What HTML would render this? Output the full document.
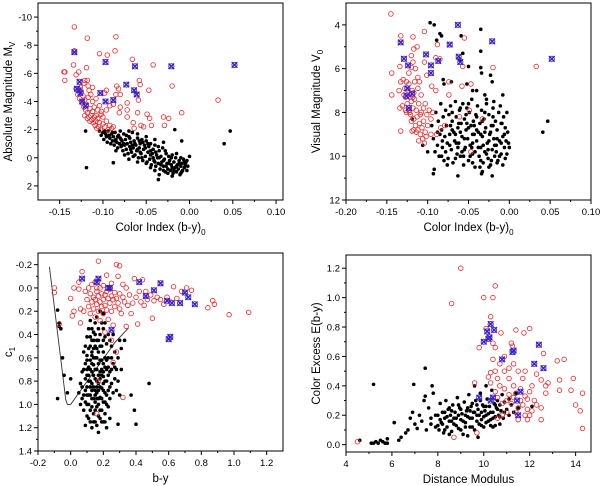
<!DOCTYPE html>
<html><head><meta charset="utf-8"><style>
html,body{margin:0;padding:0;background:#fff;}
svg{display:block;font-family:"Liberation Sans",Arial,sans-serif;}
</style></head><body>
<svg id="chart" width="600" height="486" viewBox="0 0 600 486"></svg>
<script>
// ---------- Panel 1: Absolute magnitude vs color index ----------
const p1Black = [[-0.104,-1.9],[-0.102,-1.6],[-0.100,-1.8],[-0.099,-1.3],[-0.097,-1.7],[-0.096,-1.5],[-0.095,-1.1],[-0.094,-1.9],[-0.092,-1.4],[-0.091,-1.0],[-0.090,-1.7],[-0.089,-1.2],[-0.088,-1.5],[-0.087,-0.9],[-0.086,-1.8],[-0.085,-1.3],[-0.084,-1.1],[-0.083,-0.7],[-0.082,-1.6],[-0.081,-1.0],[-0.080,-1.4],[-0.079,-0.8],[-0.078,-1.2],[-0.077,-0.5],[-0.076,-1.7],[-0.075,-0.9],[-0.074,-1.3],[-0.073,-0.6],[-0.072,-1.0],[-0.071,-0.3],[-0.070,-1.5],[-0.069,-0.8],[-0.068,-1.1],[-0.067,-0.4],[-0.066,-1.8],[-0.065,-0.7],[-0.064,-1.2],[-0.063,-0.2],[-0.062,-0.9],[-0.061,-0.5],[-0.060,-1.4],[-0.059,0.0],[-0.058,-0.7],[-0.057,-1.0],[-0.056,-0.3],[-0.055,-1.3],[-0.054,0.2],[-0.053,-0.6],[-0.052,-0.9],[-0.051,-0.1],[-0.050,-1.2],[-0.049,0.3],[-0.048,-0.4],[-0.047,-0.8],[-0.046,0.1],[-0.045,-1.0],[-0.044,0.5],[-0.043,-0.3],[-0.042,-0.6],[-0.041,0.2],[-0.040,-0.9],[-0.039,0.6],[-0.038,-0.2],[-0.037,0.0],[-0.036,0.4],[-0.035,-0.5],[-0.034,0.8],[-0.033,-0.1],[-0.032,0.3],[-0.031,-0.7],[-0.030,0.6],[-0.029,0.1],[-0.028,1.0],[-0.027,-0.3],[-0.026,0.4],[-0.025,0.8],[-0.024,-0.1],[-0.023,0.2],[-0.022,0.9],[-0.021,0.5],[-0.020,-0.2],[-0.019,1.1],[-0.018,0.3],[-0.017,0.7],[-0.016,0.0],[-0.015,1.0],[-0.014,0.5],[-0.013,0.8],[-0.012,0.2],[-0.011,1.2],[-0.010,0.6],[-0.009,0.4],[-0.008,0.9],[-0.007,0.1],[-0.006,0.7],[-0.005,0.5],[-0.004,0.3],[-0.002,0.6],[0.000,-0.1],[-0.003,0.9],[-0.08,-1.9],[-0.07,-1.9],[-0.06,-1.7],[-0.05,-1.5],[-0.045,-0.2],[-0.055,0.0],[-0.065,-0.1],[-0.075,-0.2],[-0.085,-0.5],[-0.035,1.2],[-0.04,0.9],[-0.03,0.9],[-0.02,1.3],[-0.025,1.1],[-0.015,-0.3],[-0.01,0.0],[-0.04,-1.3],[-0.03,-1.1],[-0.045,0.7],[-0.06,0.3],[-0.07,0.1],[-0.12,-1.9],[-0.119,0.7],[-0.088,0.35],[-0.036,1.55],[-0.017,-2.0],[-0.009,-1.2],[0.047,-1.9],[0.040,-1.0]];
const p1BlackMore = [[-0.098,-1.9],[-0.093,-1.6],[-0.089,-1.8],[-0.086,-1.2],[-0.083,-1.5],[-0.079,-1.3],[-0.076,-1.0],[-0.073,-1.6],[-0.069,-1.4],[-0.066,-0.9],[-0.063,-1.0],[-0.06,-0.6],[-0.057,-0.4],[-0.054,-1.1],[-0.051,-0.7],[-0.048,-1.0],[-0.045,-0.5],[-0.042,0.0],[-0.039,-0.4],[-0.036,-0.8],[-0.033,0.5],[-0.03,0.2],[-0.027,0.6],[-0.024,0.4],[-0.021,0.0],[-0.018,0.9],[-0.015,0.6],[-0.012,0.4],[-0.009,1.0],[-0.006,0.3],[-0.003,0.2],[-0.05,0.4],[-0.04,0.3],[-0.035,0.0],[-0.028,-0.5],[-0.02,0.7],[-0.01,1.1],[-0.058,-1.2],[-0.068,-0.6],[-0.078,-0.9]];
const p1Red = [[-0.131,-4.9],[-0.129,-4.5],[-0.127,-4.2],[-0.125,-4.7],[-0.124,-3.9],[-0.123,-4.4],[-0.122,-3.6],[-0.121,-4.1],[-0.120,-3.4],[-0.119,-3.8],[-0.118,-3.2],[-0.117,-4.3],[-0.116,-2.9],[-0.115,-3.5],[-0.114,-3.0],[-0.113,-2.7],[-0.112,-3.3],[-0.111,-2.5],[-0.110,-2.9],[-0.109,-2.3],[-0.108,-2.6],[-0.107,-2.1],[-0.106,-2.8],[-0.105,-2.2],[-0.104,-2.5],[-0.103,-2.0],[-0.102,-3.1],[-0.100,-2.4],[-0.098,-2.2],[-0.096,-2.6],[-0.094,-2.0],[-0.092,-2.3],[-0.090,-2.1],[-0.088,-2.2],[-0.126,-5.0],[-0.122,-5.3],[-0.118,-5.5],[-0.116,-4.8],[-0.114,-4.5],[-0.112,-4.0],[-0.110,-3.6],[-0.108,-4.2],[-0.106,-3.4],[-0.104,-3.7],[-0.102,-3.3],[-0.100,-2.9],[-0.112,-5.0],[-0.108,-3.0],[-0.115,-2.6],[-0.118,-2.8],[-0.121,-3.0],[-0.133,-9.3],[-0.118,-8.5],[-0.085,-8.6],[-0.086,-7.6],[-0.104,-7.4],[-0.095,-7.3],[-0.066,-7.0],[-0.133,-7.6],[-0.134,-6.6],[-0.145,-6.1],[-0.144,-6.1],[-0.119,-6.4],[-0.128,-6.1],[-0.042,-6.6],[-0.144,-5.5],[-0.131,-5.9],[-0.117,-5.1],[-0.121,-5.5],[-0.098,-4.6],[-0.084,-5.1],[-0.082,-4.9],[-0.058,-5.5],[-0.057,-5.2],[-0.020,-5.1],[-0.047,-4.8],[-0.085,-4.5],[-0.080,-4.5],[-0.059,-4.1],[-0.088,-3.8],[-0.096,-3.4],[-0.072,-3.9],[-0.072,-3.4],[-0.081,-3.2],[-0.060,-3.2],[-0.049,-3.1],[-0.046,-2.8],[-0.072,-2.9],[-0.030,-2.9],[-0.024,-2.8],[-0.009,-3.2],[0.033,-4.1],[-0.065,-2.5],[-0.064,-2.1],[-0.056,-2.3],[-0.044,-2.3],[-0.029,-2.3],[-0.053,-2.2],[-0.080,-3.6],[-0.096,-4.8],[-0.092,-3.7]];
const p1Blue = [[-0.133,-7.5],[-0.097,-6.8],[-0.063,-6.5],[-0.021,-6.5],[0.052,-6.6],[-0.073,-5.2],[-0.064,-4.8],[-0.061,-4.5],[-0.103,-4.6],[-0.097,-4.0],[-0.088,-4.1],[-0.127,-5.4],[-0.128,-4.8],[-0.126,-4.6],[-0.124,-4.0],[-0.120,-3.7],[-0.130,-4.9]];
const p1XTicks = [-0.15,-0.10,-0.05,0.00,0.05,0.10];
const p1YTicks = [-10,-8,-6,-4,-2,0,2];

// ---------- Panel 2: Visual magnitude vs color index ----------
const p2Black = [[-0.097,3.9],[-0.092,4.0],[-0.085,4.4],[-0.083,4.5],[-0.089,4.7],[-0.035,4.2],[-0.059,4.5],[-0.057,5.3],[-0.035,5.2],[-0.061,5.6],[-0.050,5.9],[-0.035,5.95],[-0.034,6.2],[-0.023,6.3],[-0.021,6.6],[-0.081,6.5],[-0.080,6.7],[-0.071,6.6],[-0.052,6.7],[-0.045,7.0],[-0.040,7.0],[-0.030,7.2],[-0.028,7.4],[-0.008,7.2],[-0.019,7.5],[0.047,8.4],[0.041,8.9],[-0.092,10.6],[-0.093,10.8],[-0.063,10.9],[-0.033,10.7],[-0.034,10.8],[-0.021,10.9],[-0.119,8.3],[-0.106,9.5],[-0.100,9.8],[-0.095,8.6],[-0.093,9.2],[-0.091,9.8],[-0.090,8.0],[-0.088,9.5],[-0.087,8.4],[-0.086,10.0],[-0.085,9.0],[-0.084,7.6],[-0.083,8.8],[-0.082,9.6],[-0.081,8.2],[-0.080,10.2],[-0.079,9.1],[-0.078,7.9],[-0.077,8.6],[-0.076,9.4],[-0.075,10.1],[-0.074,8.1],[-0.073,9.0],[-0.072,7.7],[-0.071,9.7],[-0.070,8.4],[-0.069,10.3],[-0.068,8.9],[-0.067,9.3],[-0.066,7.5],[-0.065,8.2],[-0.064,9.9],[-0.063,8.7],[-0.062,9.4],[-0.061,7.9],[-0.060,10.0],[-0.059,8.5],[-0.058,9.1],[-0.057,7.6],[-0.056,10.4],[-0.055,8.3],[-0.054,9.6],[-0.053,8.8],[-0.052,7.8],[-0.051,9.2],[-0.050,10.2],[-0.049,8.0],[-0.048,9.5],[-0.047,8.6],[-0.046,7.4],[-0.045,9.9],[-0.044,8.4],[-0.043,9.0],[-0.042,10.5],[-0.041,8.1],[-0.040,9.3],[-0.039,7.7],[-0.038,8.9],[-0.037,10.0],[-0.036,8.5],[-0.035,9.6],[-0.034,7.9],[-0.033,9.1],[-0.032,10.3],[-0.031,8.3],[-0.030,9.8],[-0.029,8.7],[-0.028,7.6],[-0.027,9.4],[-0.026,10.1],[-0.025,8.1],[-0.024,9.0],[-0.023,10.4],[-0.022,8.6],[-0.021,9.7],[-0.020,7.8],[-0.019,9.2],[-0.018,10.0],[-0.017,8.4],[-0.016,9.5],[-0.015,8.8],[-0.014,10.2],[-0.013,8.0],[-0.012,9.3],[-0.011,7.7],[-0.010,9.9],[-0.009,8.5],[-0.008,9.1],[-0.007,8.2],[-0.006,9.6],[-0.005,8.7],[-0.004,9.3],[-0.003,9.9],[-0.002,8.9],[-0.001,9.4],[0.000,9.6],[-0.066,9.0],[-0.058,9.8],[-0.048,10.0],[-0.038,9.6],[-0.028,9.9],[-0.018,9.5],[-0.053,8.1],[-0.043,8.6],[-0.033,8.4],[-0.023,8.9],[-0.063,9.6],[-0.073,9.5],[-0.083,10.0],[-0.078,9.8],[-0.015,10.3],[-0.025,10.5],[-0.045,10.3],[-0.035,10.2],[-0.055,9.2],[-0.045,9.0]];
const p2BlackMore = [[-0.07,8.8],[-0.065,9.4],[-0.06,8.9],[-0.055,9.7],[-0.05,8.7],[-0.045,9.4],[-0.04,8.8],[-0.035,9.0],[-0.03,8.9],[-0.025,9.3],[-0.02,8.6],[-0.015,9.2],[-0.01,9.4],[-0.005,10.1],[-0.012,10.0],[-0.022,10.2],[-0.032,9.5],[-0.042,9.8],[-0.052,8.5],[-0.062,8.5],[-0.072,8.6],[-0.082,9.3],[-0.088,8.9],[-0.076,10.4],[-0.066,10.1],[-0.056,10.0],[-0.046,9.6],[-0.036,10.5],[-0.026,9.7],[-0.016,9.8],[-0.006,9.0],[-0.008,10.4],[-0.03,8.0],[-0.04,8.2],[-0.05,7.6],[-0.06,7.8],[-0.07,8.0],[-0.02,8.2],[-0.01,8.5],[-0.003,8.0]];
const p2Red = [[-0.145,3.5],[-0.133,4.5],[-0.118,4.55],[-0.104,4.3],[-0.113,5.0],[-0.117,5.1],[-0.088,4.9],[-0.055,4.6],[-0.134,5.9],[-0.120,5.4],[-0.118,5.7],[-0.104,5.7],[-0.120,5.95],[-0.115,6.0],[-0.123,6.2],[-0.144,6.2],[-0.101,6.3],[-0.112,6.4],[-0.090,5.5],[-0.085,5.55],[-0.057,5.9],[-0.020,5.95],[0.033,5.9],[-0.133,6.6],[-0.135,7.0],[-0.144,7.2],[-0.134,7.8],[-0.133,8.85],[-0.119,8.85],[-0.117,8.8],[-0.110,6.6],[-0.095,6.8],[-0.090,7.0],[-0.074,6.6],[-0.074,7.2],[-0.058,6.8],[-0.047,6.7],[-0.049,7.9],[-0.096,9.0],[-0.089,9.0],[-0.084,8.7],[-0.079,8.6],[-0.061,8.2],[-0.047,9.8],[-0.033,8.3],[-0.130,6.5],[-0.128,6.9],[-0.127,7.3],[-0.126,6.6],[-0.125,7.6],[-0.124,7.0],[-0.123,7.9],[-0.122,7.3],[-0.121,8.1],[-0.120,7.5],[-0.119,7.0],[-0.118,7.8],[-0.117,8.3],[-0.116,7.4],[-0.115,8.6],[-0.114,7.9],[-0.113,8.2],[-0.112,8.8],[-0.111,7.6],[-0.110,8.5],[-0.109,9.0],[-0.108,8.0],[-0.107,8.7],[-0.106,9.2],[-0.105,8.4],[-0.104,9.4],[-0.103,8.9],[-0.102,9.1],[-0.101,8.1],[-0.100,8.6],[-0.098,7.9],[-0.096,8.3],[-0.094,8.0],[-0.129,7.2],[-0.126,8.0],[-0.123,6.7],[-0.120,8.4],[-0.117,7.1],[-0.114,8.9],[-0.111,9.3],[-0.108,7.2],[-0.105,7.8],[-0.112,6.9],[-0.116,6.6],[-0.122,8.0],[-0.118,7.3],[-0.127,7.9],[-0.131,7.7],[-0.109,8.1],[-0.103,7.6]];
const p2Blue = [[-0.133,4.8],[-0.063,4.0],[-0.021,4.75],[0.052,5.55],[-0.073,4.9],[-0.129,5.55],[-0.124,5.85],[-0.102,5.35],[-0.096,5.85],[-0.087,5.65],[-0.062,5.45],[-0.060,5.7],[-0.096,6.2],[-0.125,6.9],[-0.126,7.25],[-0.119,7.15],[-0.123,7.8]];
const p2XTicks = [-0.20,-0.15,-0.10,-0.05,0.00,0.05,0.10];
const p2YTicks = [4,6,8,10,12];

// ---------- Panel 3: c1 vs b-y ----------
const p3Black = [[0.06,0.82],[0.07,0.95],[0.07,0.72],[0.08,0.55],[0.08,1.05],[0.09,0.65],[0.09,0.88],[0.09,1.18],[0.10,0.42],[0.10,0.75],[0.10,1.0],[0.10,0.58],[0.11,0.35],[0.11,0.68],[0.11,0.92],[0.11,1.12],[0.12,0.5],[0.12,0.8],[0.12,1.05],[0.12,0.62],[0.12,0.28],[0.13,0.45],[0.13,0.72],[0.13,0.95],[0.13,1.2],[0.13,0.58],[0.14,0.38],[0.14,0.66],[0.14,0.85],[0.14,1.08],[0.14,0.52],[0.15,0.3],[0.15,0.6],[0.15,0.78],[0.15,0.98],[0.15,1.15],[0.16,0.45],[0.16,0.7],[0.16,0.9],[0.16,1.02],[0.16,0.25],[0.17,0.55],[0.17,0.82],[0.17,1.1],[0.17,0.65],[0.17,1.24],[0.18,0.4],[0.18,0.72],[0.18,0.94],[0.18,0.2],[0.18,1.05],[0.19,0.5],[0.19,0.62],[0.19,0.86],[0.19,1.15],[0.20,0.35],[0.20,0.76],[0.20,0.98],[0.20,0.55],[0.21,0.68],[0.21,0.9],[0.21,1.08],[0.21,0.3],[0.22,0.48],[0.22,0.8],[0.22,1.0],[0.23,0.6],[0.23,0.88],[0.23,0.4],[0.24,0.72],[0.24,0.95],[0.24,1.12],[0.25,0.5],[0.25,0.82],[0.26,0.65],[0.26,0.9],[0.27,0.55],[0.27,0.78],[0.28,0.7],[0.28,0.88],[0.29,0.6],[0.29,0.8],[0.30,0.45],[0.30,0.92],[0.31,0.7],[0.08,0.7],[0.09,0.78],[0.1,0.85],[0.11,0.8],[0.12,0.92],[0.13,0.82],[0.14,0.75],[0.15,0.88],[0.16,0.8],[0.17,0.95],[0.18,0.85],[0.19,0.75],[0.2,0.88],[0.21,0.8],[0.22,0.92],[0.23,0.75],[0.1,0.62],[0.12,0.7],[0.14,0.95],[0.16,0.6],[0.18,0.62],[0.2,0.65],[0.22,0.7],[0.13,1.02],[0.15,1.05],[0.17,1.0],[0.19,0.95],[0.21,0.98],[0.07,0.85],[0.08,0.92],[0.06,1.0],[0.05,0.9],[0.1,1.1],[0.12,1.15],[0.2,1.15],[0.22,1.2],[0.16,1.18],[0.11,0.52],[0.13,0.35],[0.15,0.4],[0.17,0.35],[0.19,0.3],[0.2,0.22],[0.21,0.42],[0.24,0.45],[0.26,0.4],[-0.08,0.19],[-0.07,0.33],[-0.06,0.35],[-0.07,0.3],[-0.05,0.6],[-0.08,0.95],[-0.04,0.75],[0.0,0.78],[-0.02,0.9],[0.33,0.45],[0.37,0.92],[0.39,1.05],[0.40,1.17],[0.48,0.82],[0.29,1.17],[0.31,0.52]];
const p3BlackMore = [[0.1,0.7],[0.11,0.75],[0.12,0.85],[0.13,0.65],[0.14,0.6],[0.15,0.7],[0.16,0.85],[0.17,0.75],[0.18,0.78],[0.19,0.7],[0.2,0.82],[0.21,0.6],[0.22,0.62],[0.23,0.68],[0.24,0.85],[0.25,0.6],[0.13,0.88],[0.15,0.92],[0.17,0.88],[0.19,1.05],[0.21,1.15],[0.23,1.02],[0.11,1.0],[0.09,0.98],[0.14,1.15],[0.18,1.12],[0.12,0.42],[0.14,0.45],[0.16,0.52],[0.18,0.5],[0.2,0.45],[0.09,0.5],[0.1,0.92],[0.16,0.95],[0.2,0.72],[0.15,0.5],[0.17,0.45],[0.13,0.55],[0.25,0.7],[0.27,0.68]];
const p3Red = [[-0.1,0.04],[-0.1,0.0],[0.0,0.09],[0.02,0.0],[0.02,0.2],[0.01,0.24],[-0.07,0.31],[0.05,-0.05],[0.05,0.01],[0.07,-0.14],[0.06,0.3],[0.06,0.18],[0.08,0.2],[0.09,0.03],[0.1,0.1],[0.11,0.0],[0.11,0.16],[0.12,0.05],[0.12,0.22],[0.13,-0.03],[0.13,0.12],[0.14,0.08],[0.14,0.18],[0.15,-0.05],[0.15,0.1],[0.15,0.25],[0.16,0.03],[0.16,0.14],[0.17,-0.23],[0.17,0.07],[0.17,0.2],[0.18,0.0],[0.18,0.12],[0.18,0.28],[0.19,0.05],[0.19,0.16],[0.2,-0.02],[0.2,0.1],[0.2,0.22],[0.21,0.06],[0.21,0.15],[0.22,-0.11],[0.22,0.03],[0.22,0.19],[0.23,0.09],[0.23,0.27],[0.24,0.01],[0.24,0.13],[0.25,-0.04],[0.25,0.07],[0.25,0.2],[0.26,0.1],[0.26,0.32],[0.27,0.04],[0.27,0.16],[0.28,-0.2],[0.28,0.09],[0.29,-0.1],[0.29,0.13],[0.3,-0.19],[0.3,0.05],[0.3,0.18],[0.31,0.22],[0.32,0.08],[0.32,-0.03],[0.33,0.12],[0.34,0.0],[0.34,0.33],[0.35,0.15],[0.36,0.06],[0.37,0.22],[0.38,0.13],[0.39,-0.08],[0.4,0.08],[0.41,0.31],[0.42,0.03],[0.43,0.12],[0.44,-0.07],[0.45,0.15],[0.46,0.03],[0.47,0.1],[0.49,0.06],[0.5,0.26],[0.51,0.11],[0.53,0.08],[0.55,0.1],[0.57,0.14],[0.59,0.08],[0.61,0.12],[0.63,-0.01],[0.65,0.09],[0.68,0.03],[0.71,0.0],[0.74,0.02],[0.84,0.17],[0.87,0.11],[0.88,0.14],[0.97,0.23],[1.09,0.21],[0.25,0.45],[0.28,0.55],[0.32,0.94],[0.26,0.64],[0.17,0.8],[0.16,1.08],[0.21,0.38],[0.16,0.0]];
const p3Blue = [[0.07,-0.08],[0.17,-0.08],[0.16,-0.05],[0.23,0.0],[0.24,0.0],[0.42,-0.05],[0.55,-0.04],[0.51,0.02],[0.46,0.07],[0.59,0.11],[0.62,0.13],[0.67,0.13],[0.70,0.04],[0.72,0.08],[0.76,0.14],[0.60,0.44],[0.61,0.42],[0.25,0.36]];
const p3LineX = [-0.13,-0.03,-0.02,0.0,0.27,0.354];
const p3LineY = [-0.18,0.96,1.0,1.0,0.47,0.343];
const p3XTicks = [-0.2,0.0,0.2,0.4,0.6,0.8,1.0,1.2];
const p3YTicks = [-0.2,0.0,0.2,0.4,0.6,0.8,1.0,1.2,1.4];

// ---------- Panel 4: Color excess vs distance modulus ----------
const p4Black = [[4.6,0.03],[5.1,0.01],[5.2,0.01],[5.3,0.02],[5.4,0.01],[5.5,0.03],[5.6,0.02],[5.7,0.01],[5.8,0.04],[5.8,0.01],[6.3,0.03],[6.4,0.05],[6.6,0.08],[6.7,0.1],[6.8,0.18],[6.9,0.22],[7.0,0.14],[7.1,0.11],[7.2,0.2],[7.3,0.16],[7.4,0.3],[7.45,0.33],[7.5,0.1],[7.6,0.25],[7.7,0.18],[7.8,0.35],[7.9,0.12],[6.1,0.15],[5.2,0.41],[6.95,0.41],[7.45,0.52],[7.75,0.4],[8.0,0.2],[8.05,0.1],[8.1,0.28],[8.15,0.15],[8.2,0.22],[8.25,0.08],[8.3,0.18],[8.35,0.3],[8.4,0.12],[8.45,0.24],[8.5,0.16],[8.55,0.2],[8.6,0.09],[8.65,0.27],[8.7,0.14],[8.75,0.22],[8.8,0.18],[8.85,0.32],[8.9,0.11],[8.95,0.25],[9.0,0.17],[9.05,0.21],[9.1,0.07],[9.15,0.29],[9.2,0.15],[9.25,0.23],[9.3,0.19],[9.35,0.34],[9.4,0.12],[9.45,0.26],[9.5,0.18],[9.55,0.22],[9.6,0.1],[9.65,0.3],[9.7,0.16],[9.75,0.24],[9.8,0.2],[9.85,0.35],[9.9,0.13],[9.95,0.27],[10.0,0.19],[10.05,0.23],[10.1,0.15],[10.15,0.31],[10.2,0.21],[10.25,0.26],[10.3,0.17],[10.35,0.37],[10.4,0.22],[10.45,0.28],[10.5,0.19],[10.55,0.25],[10.6,0.3],[10.65,0.2],[10.7,0.27],[10.75,0.23],[10.8,0.34],[10.85,0.18],[10.9,0.29],[11.0,0.24],[11.1,0.31],[11.2,0.27],[11.3,0.22],[11.4,0.35],[11.5,0.25],[12.1,0.26],[10.1,0.4],[9.6,0.4],[8.2,0.14],[8.4,0.19],[8.6,0.23],[8.8,0.13],[9.0,0.24],[9.2,0.2],[9.4,0.18],[9.6,0.22],[9.8,0.14],[10.0,0.26],[10.2,0.16],[10.4,0.18],[10.6,0.24],[9.1,0.16],[9.3,0.25],[9.5,0.12],[9.7,0.2],[9.9,0.22],[10.1,0.2],[10.3,0.13],[8.9,0.2],[8.7,0.18],[8.5,0.25],[8.3,0.1],[8.1,0.17],[7.9,0.2],[7.7,0.14],[9.75,0.05],[9.3,0.06],[10.7,0.14],[10.5,0.13]];
const p4BlackMore = [[8.3,0.22],[8.6,0.16],[8.9,0.27],[9.2,0.12],[9.4,0.23],[9.7,0.27],[9.9,0.17],[10.1,0.26],[10.3,0.22],[10.5,0.27],[10.7,0.19],[10.9,0.22],[11.1,0.2],[9.0,0.1],[9.5,0.28],[10.0,0.12],[8.0,0.13],[8.5,0.07],[9.85,0.3],[10.4,0.12]];
const p4Red = [[4.5,0.02],[8.7,0.05],[9.7,0.08],[8.6,0.96],[9.0,1.2],[10.0,1.0],[10.4,1.0],[10.5,1.08],[10.3,0.87],[10.1,0.79],[9.8,0.66],[10.4,0.69],[10.5,0.66],[10.75,0.76],[11.4,0.78],[12.0,0.79],[11.75,0.76],[9.6,0.42],[10.4,0.58],[10.3,0.49],[10.6,0.45],[10.9,0.6],[11.2,0.69],[11.25,0.67],[11.1,0.52],[11.3,0.55],[11.5,0.5],[11.8,0.5],[12.6,0.62],[13.2,0.57],[13.5,0.58],[12.1,0.4],[12.5,0.44],[12.7,0.4],[12.8,0.42],[13.3,0.44],[13.3,0.37],[13.8,0.37],[13.9,0.45],[14.3,0.35],[14.0,0.27],[14.2,0.23],[14.3,0.11],[14.9,0.3],[12.7,0.35],[12.5,0.25],[12.5,0.17],[12.3,0.27],[12.0,0.2],[11.9,0.17],[11.5,0.17],[12.0,0.36],[11.7,0.45],[11.9,0.31],[10.5,0.36],[10.7,0.4],[10.9,0.38],[11.0,0.3],[11.1,0.34],[11.2,0.28],[11.3,0.4],[11.4,0.35],[11.6,0.3],[11.7,0.27],[11.8,0.33],[11.5,0.25],[11.4,0.22],[11.0,0.22],[10.8,0.2],[10.6,0.18],[10.9,0.5],[10.7,0.55],[10.6,0.32],[11.8,0.2],[12.1,0.23],[12.2,0.3],[11.6,0.38],[11.3,0.32],[10.8,0.28],[11.1,0.45],[10.5,0.5],[11.9,0.24],[12.3,0.48],[10.3,0.42],[10.2,0.46]];
const p4Blue = [[9.8,0.32],[10.3,0.3],[10.4,0.32],[10.0,0.7],[10.15,0.77],[10.2,0.72],[10.25,0.73],[10.3,0.82],[10.45,0.78],[10.8,0.58],[11.3,0.64],[11.25,0.63],[12.4,0.68],[12.2,0.55],[12.6,0.52],[11.6,0.36],[11.45,0.3],[11.5,0.2]];
const p4XTicks = [4,6,8,10,12,14];
const p4YTicks = [0.0,0.2,0.4,0.6,0.8,1.0,1.2];

const NS = 'http://www.w3.org/2000/svg';
const svg = document.getElementById('chart');
function mk(tag, attrs, parent){
  const e = document.createElementNS(NS, tag);
  for (const k in attrs) e.setAttribute(k, attrs[k]);
  (parent||svg).appendChild(e);
  return e;
}

function panel(cfg){
  const g = mk('g', {});
  
  
  const b = cfg.box;
  const sx = v => b.l + (v - cfg.xr[0]) / (cfg.xr[1] - cfg.xr[0]) * (b.r - b.l);
  const sy = v => b.t + (v - cfg.yr[0]) / (cfg.yr[1] - cfg.yr[0]) * (b.b - b.t);
  const clip = 'clip-' + cfg.name;
  const cp = mk('clipPath', {id: clip}, g);
  mk('rect', {x: b.l, y: b.t, width: b.r - b.l, height: b.b - b.t}, cp);
  const frame = mk('rect', {x: b.l, y: b.t, width: b.r - b.l, height: b.b - b.t, fill: 'none', stroke: '#000', 'stroke-width': 1}, g);
  
  
  const xa = mk('g', {}, g);
  
  
  cfg.xt.forEach((v, i) => {
    const x = sx(v);
    mk('line', {x1: x, x2: x, y1: b.b, y2: b.b + 4, stroke: '#000', 'stroke-width': 1}, xa);
    if (i < cfg.xt.length - 1) {
      const xm = sx((v + cfg.xt[i + 1]) / 2);
      mk('line', {x1: xm, x2: xm, y1: b.b, y2: b.b + 2, stroke: '#000', 'stroke-width': 1}, xa);
    }
    const t = mk('text', {x: x, y: b.b + 15, 'text-anchor': 'middle', 'font-size': 9.5, fill: '#000'}, xa);
    t.textContent = cfg.xf(v);
    
    
  });
  const ya = mk('g', {}, g);
  
  
  cfg.yt.forEach((v, i) => {
    const y = sy(v);
    mk('line', {x1: b.l - 4, x2: b.l, y1: y, y2: y, stroke: '#000', 'stroke-width': 1}, ya);
    if (i < cfg.yt.length - 1) {
      const ym = sy((v + cfg.yt[i + 1]) / 2);
      mk('line', {x1: b.l - 2, x2: b.l, y1: ym, y2: ym, stroke: '#000', 'stroke-width': 1}, ya);
    }
    const t = mk('text', {x: b.l - 6, y: y + 3.5, 'text-anchor': 'end', 'font-size': 9.5, fill: '#000'}, ya);
    t.textContent = cfg.yf(v);
    
    
  });
  const xt = mk('text', {x: (b.l + b.r) / 2, y: b.b + 31, 'text-anchor': 'middle', 'font-size': 11.5, fill: '#000'}, g);
  xt.innerHTML = cfg.xlabel;
  
  
  const cy = (b.t + b.b) / 2;
  const yt = mk('text', {x: 0, y: 0, transform: 'translate(' + cfg.ylx + ',' + cy + ') rotate(-90)', 'text-anchor': 'middle', 'font-size': 11.5, fill: '#000'}, g);
  yt.innerHTML = cfg.ylabel;
  
  

  const marks = mk('g', {'clip-path': 'url(#' + clip + ')'}, g);
  if (cfg.lineX) {
    const pts = cfg.lineX.map((v, i) => sx(v) + ',' + sy(cfg.lineY[i])).join(' ');
    const pl = mk('polyline', {points: pts, fill: 'none', stroke: '#333', 'stroke-width': 0.9}, marks);
    
    
  }
  const gb = mk('g', {}, marks);
  
  
  cfg.black.forEach(p => {
    const c = mk('circle', {cx: sx(p[0]), cy: sy(p[1]), r: 1.8, fill: '#000'}, gb);
    
    
  });
  const gr = mk('g', {}, marks);
  
  
  cfg.red.forEach(p => {
    const c = mk('circle', {cx: sx(p[0]), cy: sy(p[1]), r: 2.3, fill: 'none', stroke: '#e8282a', 'stroke-width': 0.8}, gr);
    
    
  });
  const gx = mk('g', {}, marks);
  
  
  cfg.blue.forEach(p => {
    const x = sx(p[0]), y = sy(p[1]), s = 2.8;
    const m = mk('g', {}, gx);
    
    
    mk('circle', {cx: x, cy: y, r: 2.6, fill: 'none', stroke: '#4a2ad0', 'stroke-width': 0.9}, m);
    mk('path', {d: 'M' + (x - s) + ' ' + (y - s) + 'L' + (x + s) + ' ' + (y + s) + 'M' + (x - s) + ' ' + (y + s) + 'L' + (x + s) + ' ' + (y - s), stroke: '#3a1fc8', 'stroke-width': 1.4}, m);
  });
}

const f2 = v => v.toFixed(2);
const f1 = v => v.toFixed(1);
const f0 = v => String(v);

panel({name: 'panel-absolute-magnitude', box: {l: 38, r: 283, t: 3, b: 200}, xr: [-0.175, 0.108], yr: [-11, 3],
  xt: p1XTicks, yt: p1YTicks, xf: f2, yf: f0, ylx: 12,
  xlabel: 'Color Index (b-y)<tspan font-size="8" dy="4">0</tspan>',
  ylabel: 'Absolute Magnitude M<tspan font-size="8" dy="3">V</tspan>',
  black: p1Black.concat(p1BlackMore), red: p1Red, blue: p1Blue});
panel({name: 'panel-visual-magnitude', box: {l: 346, r: 591, t: 3, b: 200}, xr: [-0.2, 0.1], yr: [3, 12],
  xt: p2XTicks, yt: p2YTicks, xf: f2, yf: f0, ylx: 320,
  xlabel: 'Color Index (b-y)<tspan font-size="8" dy="4">0</tspan>',
  ylabel: 'Visual Magnitude V<tspan font-size="8" dy="3">0</tspan>',
  black: p2Black.concat(p2BlackMore), red: p2Red, blue: p2Blue});
panel({name: 'panel-c1-index', box: {l: 38, r: 283, t: 253, b: 451}, xr: [-0.2, 1.3], yr: [-0.3, 1.4],
  xt: p3XTicks, yt: p3YTicks, xf: f1, yf: f1, ylx: 12,
  xlabel: 'b-y',
  ylabel: 'c<tspan font-size="8" dy="3">1</tspan>',
  black: p3Black.concat(p3BlackMore), red: p3Red, blue: p3Blue, lineX: p3LineX, lineY: p3LineY});
panel({name: 'panel-color-excess', box: {l: 346, r: 591, t: 255, b: 452}, xr: [4, 14.67], yr: [1.29, -0.05],
  xt: p4XTicks, yt: p4YTicks, xf: f0, yf: f1, ylx: 320,
  xlabel: 'Distance Modulus',
  ylabel: 'Color Excess E(b-y)',
  black: p4Black.concat(p4BlackMore), red: p4Red, blue: p4Blue});
</script>
</body></html>
